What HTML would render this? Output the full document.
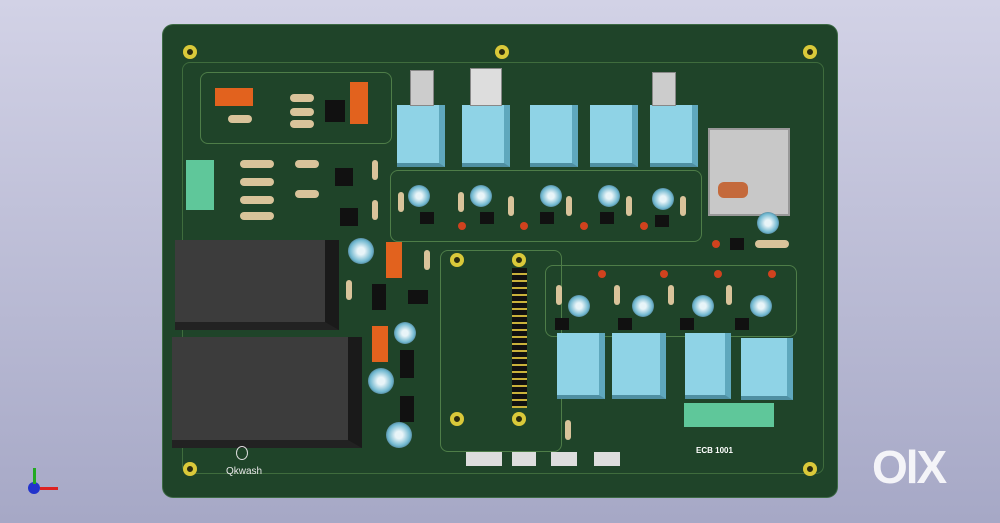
<!DOCTYPE html>
<html><head><style>
body{margin:0;width:1000px;height:523px;overflow:hidden;background:linear-gradient(#d2d2e6,#a6a8c6);position:relative;font-family:"Liberation Sans",sans-serif}
.a{position:absolute}
.board{left:163px;top:25px;width:674px;height:472px;background:#1f4429;border-radius:10px;box-shadow:0 0 0 1px #3d6a45}
.relay{background:#8fd3e6;border-right:6px solid #5fa8bd;border-bottom:4px solid #4f8fa2}
.hole{width:14px;height:14px;border-radius:50%;background:#d9c93a;box-shadow:inset 0 0 0 4px #d9c93a,inset 0 0 0 8px #2a2a10}
.blk{background:#3c3c3c;border-right:14px solid #1a1a1a;border-bottom:8px solid #222}
.cap{width:22px;height:22px;border-radius:50%;background:radial-gradient(#e8f4f8 20%,#6fb7cf 60%,#223 100%)}
.res{width:34px;height:8px;background:#d9c39a;border-radius:4px}
.sr{width:6px;height:20px;background:#d9c39a;border-radius:3px}
.ic{width:14px;height:12px;background:#111}
.led{width:8px;height:8px;border-radius:50%;background:#d0421e}
.or{background:#e2621e}
.trace{border:1px solid #4e7d48;border-radius:8px}
</style></head><body>
<div class="a board"></div>
<div class="a trace" style="left:182px;top:62px;width:640px;height:410px;border-color:#3f6c3d"></div>
<div class="a trace" style="left:200px;top:72px;width:190px;height:70px"></div>
<div class="a trace" style="left:390px;top:170px;width:310px;height:70px"></div>
<div class="a trace" style="left:545px;top:265px;width:250px;height:70px"></div>
<div class="a trace" style="left:440px;top:250px;width:120px;height:200px"></div>
<div class="a hole" style="left:183px;top:45px"></div>
<div class="a hole" style="left:495px;top:45px"></div>
<div class="a hole" style="left:803px;top:45px"></div>
<div class="a hole" style="left:183px;top:462px"></div>
<div class="a hole" style="left:803px;top:462px"></div>
<div class="a hole" style="left:450px;top:253px"></div>
<div class="a hole" style="left:512px;top:253px"></div>
<div class="a hole" style="left:450px;top:412px"></div>
<div class="a hole" style="left:512px;top:412px"></div>
<div class="a relay" style="left:397px;top:105px;width:42px;height:58px"></div>
<div class="a relay" style="left:462px;top:105px;width:42px;height:58px"></div>
<div class="a relay" style="left:530px;top:105px;width:42px;height:58px"></div>
<div class="a relay" style="left:590px;top:105px;width:42px;height:58px"></div>
<div class="a relay" style="left:650px;top:105px;width:42px;height:58px"></div>
<div class="a" style="left:410px;top:70px;width:22px;height:34px;background:#ccc;border:1px solid #888"></div>
<div class="a" style="left:470px;top:68px;width:30px;height:36px;background:#ddd;border:1px solid #888"></div>
<div class="a" style="left:652px;top:72px;width:22px;height:32px;background:#ccc;border:1px solid #888"></div>
<div class="a" style="left:708px;top:128px;width:78px;height:84px;background:#c8c8c8;border:2px solid #999"></div>
<div class="a" style="left:718px;top:182px;width:30px;height:16px;background:#c46a3c;border-radius:6px"></div>
<div class="a blk" style="left:175px;top:240px;width:150px;height:82px"></div>
<div class="a blk" style="left:172px;top:337px;width:176px;height:103px"></div>
<div class="a relay" style="left:557px;top:333px;width:42px;height:62px"></div>
<div class="a relay" style="left:612px;top:333px;width:48px;height:62px"></div>
<div class="a relay" style="left:685px;top:333px;width:40px;height:62px"></div>
<div class="a relay" style="left:741px;top:338px;width:46px;height:58px"></div>
<div class="a" style="left:512px;top:268px;width:15px;height:140px;background:repeating-linear-gradient(#111 0 5px,#c9b23a 5px 7px)"></div>
<div class="a" style="left:684px;top:403px;width:90px;height:24px;background:#5fc79a"></div>
<div class="a" style="left:186px;top:160px;width:28px;height:50px;background:#5fc79a"></div>
<div class="a" style="left:466px;top:452px;width:36px;height:14px;background:#ddd"></div>
<div class="a" style="left:512px;top:452px;width:24px;height:14px;background:#ddd"></div>
<div class="a" style="left:551px;top:452px;width:26px;height:14px;background:#ddd"></div>
<div class="a" style="left:594px;top:452px;width:26px;height:14px;background:#ddd"></div>
<div class="a cap" style="left:408px;top:185px"></div>
<div class="a cap" style="left:470px;top:185px"></div>
<div class="a cap" style="left:540px;top:185px"></div>
<div class="a cap" style="left:598px;top:185px"></div>
<div class="a cap" style="left:652px;top:188px"></div>
<div class="a cap" style="left:757px;top:212px"></div>
<div class="a cap" style="left:348px;top:238px;width:26px;height:26px"></div>
<div class="a cap" style="left:568px;top:295px"></div>
<div class="a cap" style="left:632px;top:295px"></div>
<div class="a cap" style="left:692px;top:295px"></div>
<div class="a cap" style="left:750px;top:295px"></div>
<div class="a cap" style="left:394px;top:322px"></div>
<div class="a cap" style="left:368px;top:368px;width:26px;height:26px"></div>
<div class="a cap" style="left:386px;top:422px;width:26px;height:26px"></div>
<div class="a or" style="left:215px;top:88px;width:38px;height:18px"></div>
<div class="a or" style="left:350px;top:82px;width:18px;height:42px"></div>
<div class="a or" style="left:386px;top:242px;width:16px;height:36px"></div>
<div class="a or" style="left:372px;top:326px;width:16px;height:36px"></div>
<div class="a res" style="left:240px;top:160px"></div>
<div class="a res" style="left:240px;top:178px"></div>
<div class="a res" style="left:240px;top:196px"></div>
<div class="a res" style="left:240px;top:212px"></div>
<div class="a res" style="left:290px;top:94px;width:24px"></div>
<div class="a res" style="left:290px;top:108px;width:24px"></div>
<div class="a res" style="left:290px;top:120px;width:24px"></div>
<div class="a res" style="left:228px;top:115px;width:24px"></div>
<div class="a res" style="left:295px;top:160px;width:24px"></div>
<div class="a res" style="left:295px;top:190px;width:24px"></div>
<div class="a res" style="left:755px;top:240px"></div>
<div class="a sr" style="left:372px;top:160px"></div>
<div class="a sr" style="left:372px;top:200px"></div>
<div class="a sr" style="left:398px;top:192px"></div>
<div class="a sr" style="left:458px;top:192px"></div>
<div class="a sr" style="left:508px;top:196px"></div>
<div class="a sr" style="left:566px;top:196px"></div>
<div class="a sr" style="left:626px;top:196px"></div>
<div class="a sr" style="left:680px;top:196px"></div>
<div class="a sr" style="left:424px;top:250px"></div>
<div class="a sr" style="left:346px;top:280px"></div>
<div class="a sr" style="left:556px;top:285px"></div>
<div class="a sr" style="left:614px;top:285px"></div>
<div class="a sr" style="left:668px;top:285px"></div>
<div class="a sr" style="left:726px;top:285px"></div>
<div class="a sr" style="left:565px;top:420px"></div>
<div class="a led" style="left:458px;top:222px"></div>
<div class="a led" style="left:520px;top:222px"></div>
<div class="a led" style="left:580px;top:222px"></div>
<div class="a led" style="left:640px;top:222px"></div>
<div class="a led" style="left:712px;top:240px"></div>
<div class="a led" style="left:598px;top:270px"></div>
<div class="a led" style="left:660px;top:270px"></div>
<div class="a led" style="left:714px;top:270px"></div>
<div class="a led" style="left:768px;top:270px"></div>
<div class="a ic" style="left:325px;top:100px;width:20px;height:22px"></div>
<div class="a ic" style="left:335px;top:168px;width:18px;height:18px"></div>
<div class="a ic" style="left:340px;top:208px;width:18px;height:18px"></div>
<div class="a ic" style="left:408px;top:290px;width:20px;height:14px"></div>
<div class="a ic" style="left:372px;top:284px;width:14px;height:26px"></div>
<div class="a ic" style="left:400px;top:350px;width:14px;height:28px"></div>
<div class="a ic" style="left:400px;top:396px;width:14px;height:26px"></div>
<div class="a ic" style="left:420px;top:212px"></div>
<div class="a ic" style="left:480px;top:212px"></div>
<div class="a ic" style="left:540px;top:212px"></div>
<div class="a ic" style="left:600px;top:212px"></div>
<div class="a ic" style="left:655px;top:215px"></div>
<div class="a ic" style="left:730px;top:238px"></div>
<div class="a ic" style="left:555px;top:318px"></div>
<div class="a ic" style="left:618px;top:318px"></div>
<div class="a ic" style="left:680px;top:318px"></div>
<div class="a ic" style="left:735px;top:318px"></div>
<div class="a" style="left:696px;top:446px;font-size:8px;color:#fff;font-weight:bold">ECB 1001</div>
<div class="a" style="left:226px;top:466px;font-size:10px;color:#e8e8e8">Qkwash</div>
<div class="a" style="left:236px;top:446px;width:10px;height:12px;border:1px solid #ddd;border-radius:50%"></div>
<div class="a" style="left:872px;top:440px;font-size:46px;font-weight:bold;color:#f4f4f8;letter-spacing:-2px">OlX</div>
<div class="a" style="left:28px;top:482px;width:12px;height:12px;border-radius:50%;background:#2233cc"></div>
<div class="a" style="left:33px;top:468px;width:3px;height:16px;background:#2a2"></div>
<div class="a" style="left:40px;top:487px;width:18px;height:3px;background:#d22"></div>
</body></html>
